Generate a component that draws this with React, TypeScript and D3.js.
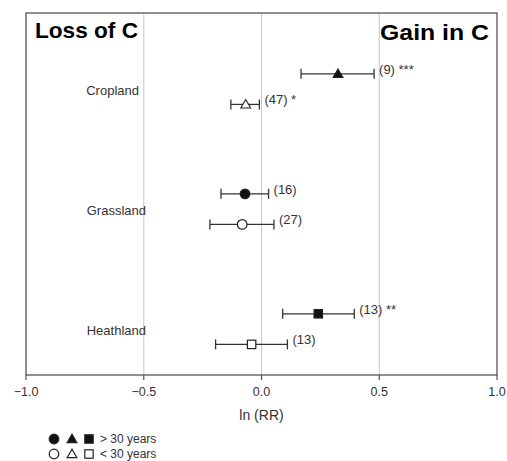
import React from "react";
import * as d3 from "d3";

const categories = ["Cropland", "Grassland", "Heathland"];
const shapes = ["triangle", "circle", "square"];
// > 30 years (filled)
const oldMean = [0.325, -0.07, 0.241];
const oldLow = [0.168, -0.172, 0.09];
const oldHigh = [0.478, 0.03, 0.394];
const oldLabels = ["(9) ***", "(16)", "(13) **"];
// < 30 years (open)
const youngMean = [-0.067, -0.082, -0.042];
const youngLow = [-0.13, -0.219, -0.195];
const youngHigh = [-0.009, 0.053, 0.11];
const youngLabels = ["(47) *", "(27)", "(13)"];
const xTicks = [-1.0, -0.5, 0.0, 0.5, 1.0];
const gridTicks = [-0.5, 0, 0.5];
const legendLabels = ["> 30 years", "< 30 years"];

const W = 507, H = 461;
const L = 26, R = 497, T = 13, B = 375;
const FONT = "Liberation Sans, Arial, sans-serif";

function Marker({ shape, x, y, filled }: { shape: string; x: number; y: number; filled: boolean }) {
  const fill = filled ? "#111" : "#fff";
  const stroke = "#222";
  if (shape === "circle") return <circle cx={x} cy={y} r={4.8} fill={fill} stroke={stroke} strokeWidth={1.2} />;
  if (shape === "square") return <rect x={x - 4.2} y={y - 4.2} width={8.4} height={8.4} fill={fill} stroke={stroke} strokeWidth={1.2} />;
  const p = d3.symbol().type(d3.symbolTriangle).size(42)();
  return <path d={p || ""} transform={`translate(${x},${y + 0.8})`} fill={fill} stroke={stroke} strokeWidth={1.1} />;
}

export default function App() {
  const x = d3.scaleLinear().domain([-1, 1]).range([L, R]);
  const y = d3.scaleLinear().domain([-0.642, 2.375]).range([T, B]);
  const offOld = -0.135, offYoung = 0.12;
  const rows: any[] = [];
  categories.forEach((c, i) => {
    rows.push({ i, shape: shapes[i], filled: true, m: oldMean[i], lo: oldLow[i], hi: oldHigh[i], lab: oldLabels[i], yy: y(i + offOld) });
    rows.push({ i, shape: shapes[i], filled: false, m: youngMean[i], lo: youngLow[i], hi: youngHigh[i], lab: youngLabels[i], yy: y(i + offYoung) });
  });
  return (
    <svg width={W} height={H} style={{ position: "absolute", left: 0, top: 0, background: "#fff" }} fontFamily={FONT}>
      <rect x={0} y={0} width={W} height={H} fill="#fff" />
      {gridTicks.map((t) => (
        <line key={t} x1={x(t)} x2={x(t)} y1={T} y2={B} stroke="#c8c8c8" strokeWidth={1} />
      ))}
      <rect x={L} y={T} width={R - L} height={B - T} fill="none" stroke="#555" strokeWidth={1.3} />
      {xTicks.map((t) => (
        <g key={t}>
          <line x1={x(t)} x2={x(t)} y1={B} y2={B + 5} stroke="#555" strokeWidth={1.2} />
          <text x={x(t)} y={B + 21} textAnchor="middle" fontSize={12.5} fill="#333">
            {t === 0 ? "0.0" : (t < 0 ? "\u2212" : "") + Math.abs(t).toFixed(1)}
          </text>
        </g>
      ))}
      <text x={x(0)} y={B + 45} textAnchor="middle" fontSize={14} fill="#333">ln (RR)</text>
      {categories.map((c, i) => (
        <text key={c} x={i === 0 ? 139 : 146} y={y(i) + 4.5} textAnchor="end" fontSize={13} fill="#333">{c}</text>
      ))}
      {rows.map((r, k) => (
        <g key={k}>
          <line x1={x(r.lo)} x2={x(r.hi)} y1={r.yy} y2={r.yy} stroke="#333" strokeWidth={1.3} />
          <line x1={x(r.lo)} x2={x(r.lo)} y1={r.yy - 5} y2={r.yy + 5} stroke="#333" strokeWidth={1.3} />
          <line x1={x(r.hi)} x2={x(r.hi)} y1={r.yy - 5} y2={r.yy + 5} stroke="#333" strokeWidth={1.3} />
          <Marker shape={r.shape} x={x(r.m)} y={r.yy} filled={r.filled} />
          <text x={x(r.hi) + 5} y={r.yy} fontSize={13} fill="#333">{r.lab}</text>
        </g>
      ))}
      <text x={35} y={38} fontSize={22} fontWeight="bold" fill="#000" textLength={103} lengthAdjust="spacingAndGlyphs">Loss of C</text>
      <text x={380} y={40} fontSize={22} fontWeight="bold" fill="#000" textLength={109} lengthAdjust="spacingAndGlyphs">Gain in C</text>
      {legendLabels.map((lab, j) => {
        const ly = 439 + j * 15;
        return (
          <g key={lab}>
            {["circle", "triangle", "square"].map((s, k) => (
              <Marker key={k} shape={s} x={[54, 72, 89][k]} y={ly} filled={j === 0} />
            ))}
            <text x={100} y={ly + 4} fontSize={12} fill="#333">{lab}</text>
          </g>
        );
      })}
    </svg>
  );
}
